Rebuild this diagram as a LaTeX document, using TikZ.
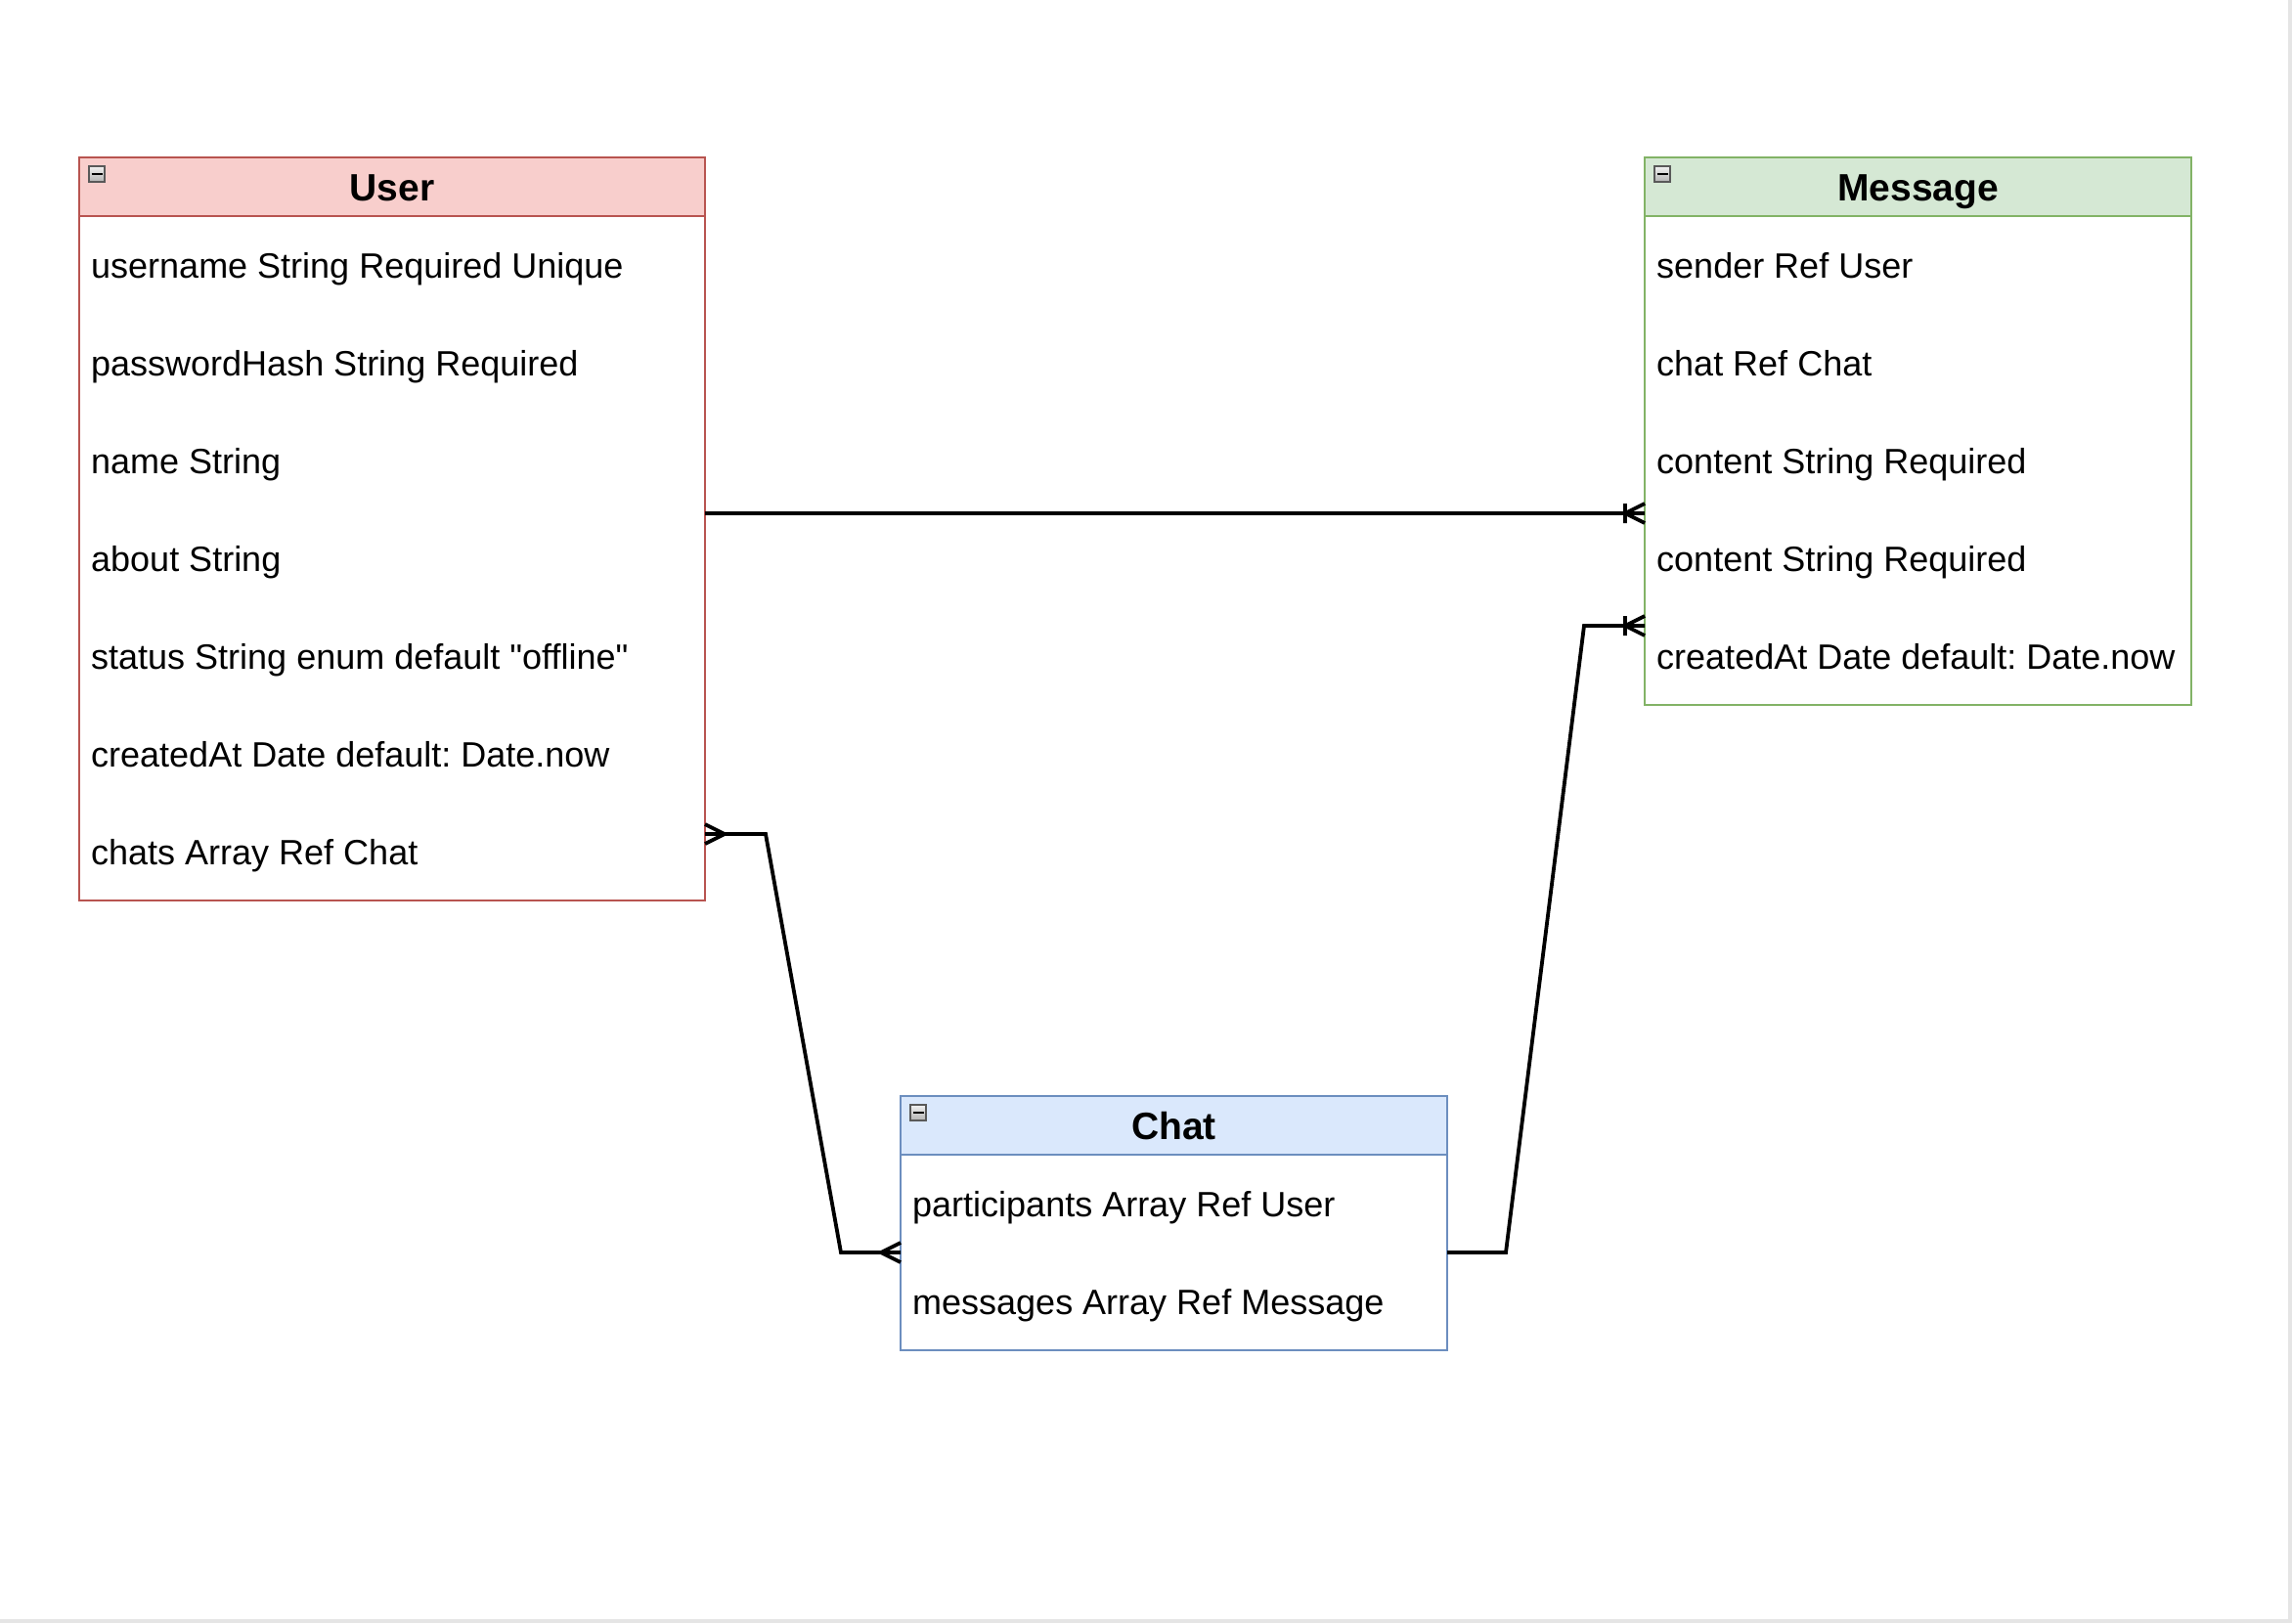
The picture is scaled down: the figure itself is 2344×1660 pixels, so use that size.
\documentclass[tikz,border=0pt]{standalone}
\usepackage{fontspec}
\setmainfont{Liberation Sans}
\usepackage{tikz}
\usetikzlibrary{calc}
\usetikzlibrary{positioning}
\usepackage{xcolor}
\frenchspacing

\definecolor{userfill}{HTML}{F8CECC}
\definecolor{userline}{HTML}{B85450}
\definecolor{msgfill}{HTML}{D5E8D4}
\definecolor{msgline}{HTML}{82B366}
\definecolor{chatfill}{HTML}{DAE8FC}
\definecolor{chatline}{HTML}{6C8EBF}

\tikzset{
  head/.style={draw,line width=1.8pt,inner sep=0pt,outer sep=0pt,minimum height=60pt,text height=28pt,text depth=0pt,font=\fontsize{39}{47}\selectfont\bfseries},
  body/.style={draw,line width=1.8pt,inner sep=0pt,outer sep=0pt,fill=white},
  field/.style={anchor=west,inner sep=0pt,text height=26pt,text depth=0pt,font=\fontsize{36}{43}\selectfont},
  rel/.style={line width=3.8pt,line join=miter},
  pics/many/.style={code={\draw[rel] (0,-10) -- (20,0) -- (0,10);}},
  pics/onemany/.style={code={\draw[rel] (0,-10) -- (20,0) -- (0,10) (20,-10) -- (20,10);}},
  pics/fold/.style={code={
    \shade[top color=gray!10,bottom color=gray!60,draw=gray!70!black,line width=1.5pt] (10,9) rectangle (26,25);
    \draw[line width=2.5pt] (12.5,17) -- (23.5,17);
  }}
}

\begin{document}
\begin{tikzpicture}[x=1pt,y=-1pt]
  \useasboundingbox (0,0) rectangle (2344,1660);
  \fill[white] (0,0) rectangle (2344,1660);
  \fill[gray!20] (2340,0) rectangle (2344,1660);
  \fill[gray!20] (0,1656) rectangle (2344,1660);

  % User
  \node (user) [head,fill=userfill,draw=userline,minimum width=640pt] at (401,191) {User};
  \node (user body) [body,draw=userline,minimum width=640pt,minimum height=700pt,below=0pt of user] {};
  \pic at (user.north west) {fold};
  \foreach \f [count=\i] in {username String Required Unique,passwordHash String Required,name String,about String,status String enum default \textquotedbl offline\textquotedbl,createdAt Date default: Date.now,chats Array Ref Chat}
    \node (user-\i) [field] at ([xshift=12pt,yshift={50pt-\i*100pt}]user body.north west) {\f};

  % Message
  \node (msg) [head,fill=msgfill,draw=msgline,minimum width=559pt] at (1961.5,191) {Message};
  \node (msg body) [body,draw=msgline,minimum width=559pt,minimum height=500pt,below=0pt of msg] {};
  \pic at (msg.north west) {fold};
  \foreach \f [count=\i] in {sender Ref User,chat Ref Chat,content String Required,content String Required,createdAt Date default: Date.now}
    \node (msg-\i) [field] at ([xshift=12pt,yshift={50pt-\i*100pt}]msg body.north west) {\f};

  % Chat
  \node (chat) [head,fill=chatfill,draw=chatline,minimum width=559pt] at (1200.5,1151) {Chat};
  \node (chat body) [body,draw=chatline,minimum width=559pt,minimum height=200pt,below=0pt of chat] {};
  \pic at (chat.north west) {fold};
  \foreach \f [count=\i] in {participants Array Ref User,messages Array Ref Message}
    \node (chat-\i) [field] at ([xshift=12pt,yshift={50pt-\i*100pt}]chat body.north west) {\f};

  % relations
  \draw [rel] (user body.east |- 0,525) -- (msg body.west |- 0,525);
  \pic [rotate=180] at (msg body.west |- 0,525) {onemany};

  \draw [rel] (chat body.east) -- ++(60,0) -- (1620,640) -- (msg body.west |- 0,640);
  \pic [rotate=180] at (msg body.west |- 0,640) {onemany};

  \draw [rel] (chat body.west) -- ++(-61,0) -- (783,853) -- (user body.east |- 0,853);
  \pic at (user body.east |- 0,853) {many};
  \pic [rotate=180] at (chat body.west) {many};

\end{tikzpicture}
\end{document}
